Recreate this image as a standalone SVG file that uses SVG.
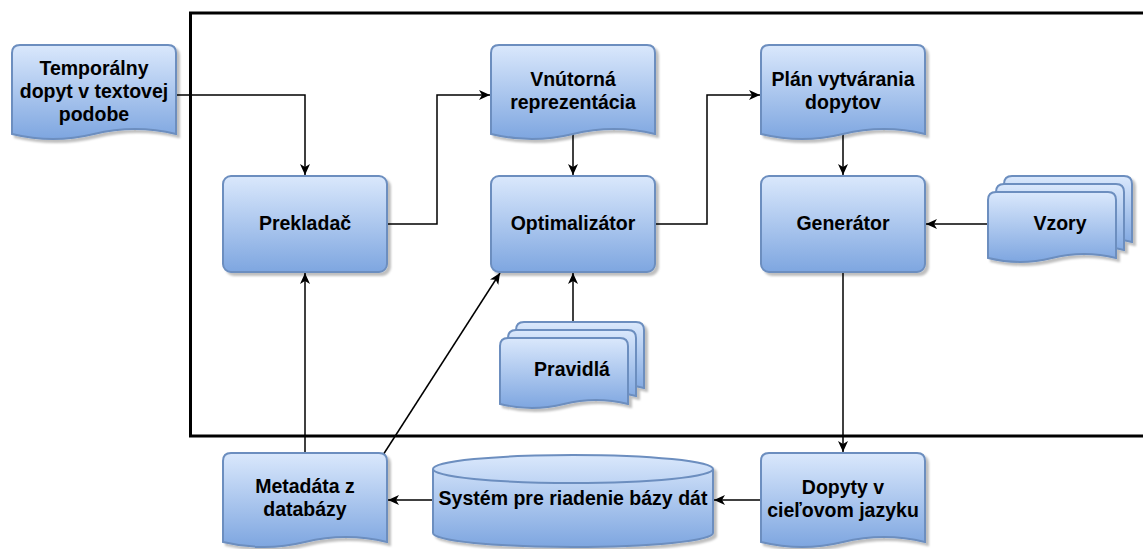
<svg xmlns="http://www.w3.org/2000/svg" xmlns:xlink="http://www.w3.org/1999/xlink" width="1143" height="549" viewBox="0 0 1143 549">
<defs>
  <linearGradient id="blue" x1="0" y1="0" x2="0" y2="1">
    <stop offset="0" stop-color="#dae8fc"/>
    <stop offset="1" stop-color="#7ea6e0"/>
  </linearGradient>
  <filter id="shadow" x="-10%" y="-10%" width="130%" height="130%">
    <feDropShadow dx="3" dy="3" stdDeviation="1" flood-color="#000" flood-opacity="0.25"/>
  </filter>
  <marker id="arrow" markerUnits="userSpaceOnUse" markerWidth="12" markerHeight="10" refX="11" refY="5" orient="auto">
    <path d="M0,0 L11,5 L0,10 L3,5 Z" fill="#000"/>
  </marker>
  <path id="doc" d="M0,8 Q0,0 8,0 H156 Q164,0 164,8 V89 Q123,79 82,89 Q41,99 0,89 Z"/>
  <path id="sdoc" d="M0,8 Q0,0 8,0 H120 Q128,0 128,8 V66 Q96,58 64,66 Q32,74 0,66 Z"/>
  <g id="multidoc">
    <use xlink:href="#sdoc" transform="translate(16,-16)"/>
    <use xlink:href="#sdoc" transform="translate(8,-8)"/>
    <use xlink:href="#sdoc"/>
  </g>
</defs>
<style>
  .shape { fill: url(#blue); stroke: #6c8ebf; stroke-width: 2; filter: url(#shadow); }
  .shape use { fill: url(#blue); stroke: #6c8ebf; stroke-width: 2; }
  .lbl { font-family: "Liberation Sans", Arial, Helvetica, sans-serif; font-weight: bold; font-size: 19.5px; fill: #000; text-anchor: middle; }
  .conn { fill: none; stroke: #000; stroke-width: 1.5; marker-end: url(#arrow); }
  .frame { fill: none; stroke: #000; stroke-width: 3; }
</style>
<rect width="1143" height="549" fill="#fff"/>

<rect class="frame" x="190.5" y="13" width="1000" height="423"/>

<g id="connectors">
  <path class="conn" d="M175,95 H305 V175"/>
  <path class="conn" d="M387,224 H437 V95 H490"/>
  <path class="conn" d="M573,134 V175"/>
  <path class="conn" d="M655,224 H707 V95 H760"/>
  <path class="conn" d="M843,134 V175"/>
  <path class="conn" d="M988,224 H926"/>
  <path class="conn" d="M843,272 V452"/>
  <path class="conn" d="M573,322 V273"/>
  <path class="conn" d="M760,500 H714"/>
  <path class="conn" d="M433,500 H388"/>
  <path class="conn" d="M305,453 V273"/>
  <path class="conn" d="M383,455 L500,273"/>
</g>

<g id="temporalny">
  <use class="shape" xlink:href="#doc" x="12" y="45"/>
  <text class="lbl" x="94" y="75">Temporálny</text>
  <text class="lbl" x="94" y="98">dopyt v textovej</text>
  <text class="lbl" x="94" y="121">podobe</text>
</g>

<g id="vnutorna">
  <use class="shape" xlink:href="#doc" x="491" y="45"/>
  <text class="lbl" x="573" y="86">Vnútorná</text>
  <text class="lbl" x="573" y="109">reprezentácia</text>
</g>

<g id="plan">
  <use class="shape" xlink:href="#doc" x="761" y="45"/>
  <text class="lbl" x="843" y="86">Plán vytvárania</text>
  <text class="lbl" x="843" y="109">dopytov</text>
</g>

<g id="prekladac">
  <rect class="shape" x="223" y="176" width="164" height="96" rx="8"/>
  <text class="lbl" x="305" y="230">Prekladač</text>
</g>

<g id="optimalizator">
  <rect class="shape" x="491" y="176" width="164" height="96" rx="8"/>
  <text class="lbl" x="573" y="230">Optimalizátor</text>
</g>

<g id="generator">
  <rect class="shape" x="761" y="176" width="164" height="96" rx="8"/>
  <text class="lbl" x="843" y="230">Generátor</text>
</g>

<g id="vzory">
  <g class="shape" transform="translate(988,192)"><use xlink:href="#multidoc"/></g>
  <text class="lbl" x="1060" y="230">Vzory</text>
</g>

<g id="pravidla">
  <g class="shape" transform="translate(500,338)"><use xlink:href="#multidoc"/></g>
  <text class="lbl" x="572" y="376">Pravidlá</text>
</g>

<g id="metadata">
  <use class="shape" xlink:href="#doc" x="223" y="453"/>
  <text class="lbl" x="305" y="493">Metadáta z</text>
  <text class="lbl" x="305" y="516">databázy</text>
</g>

<g id="dbms">
  <path class="shape" d="M433,469 A140,14 0 0 1 713,469 V533 A140,14 0 0 1 433,533 Z"/>
  <path d="M433,469 A140,14 0 0 0 713,469" fill="none" stroke="#6c8ebf" stroke-width="2"/>
  <text class="lbl" x="573" y="505">Systém pre riadenie bázy dát</text>
</g>

<g id="dopyty">
  <use class="shape" xlink:href="#doc" x="761" y="453"/>
  <text class="lbl" x="843" y="494">Dopyty v</text>
  <text class="lbl" x="843" y="517">cieľovom jazyku</text>
</g>
</svg>
